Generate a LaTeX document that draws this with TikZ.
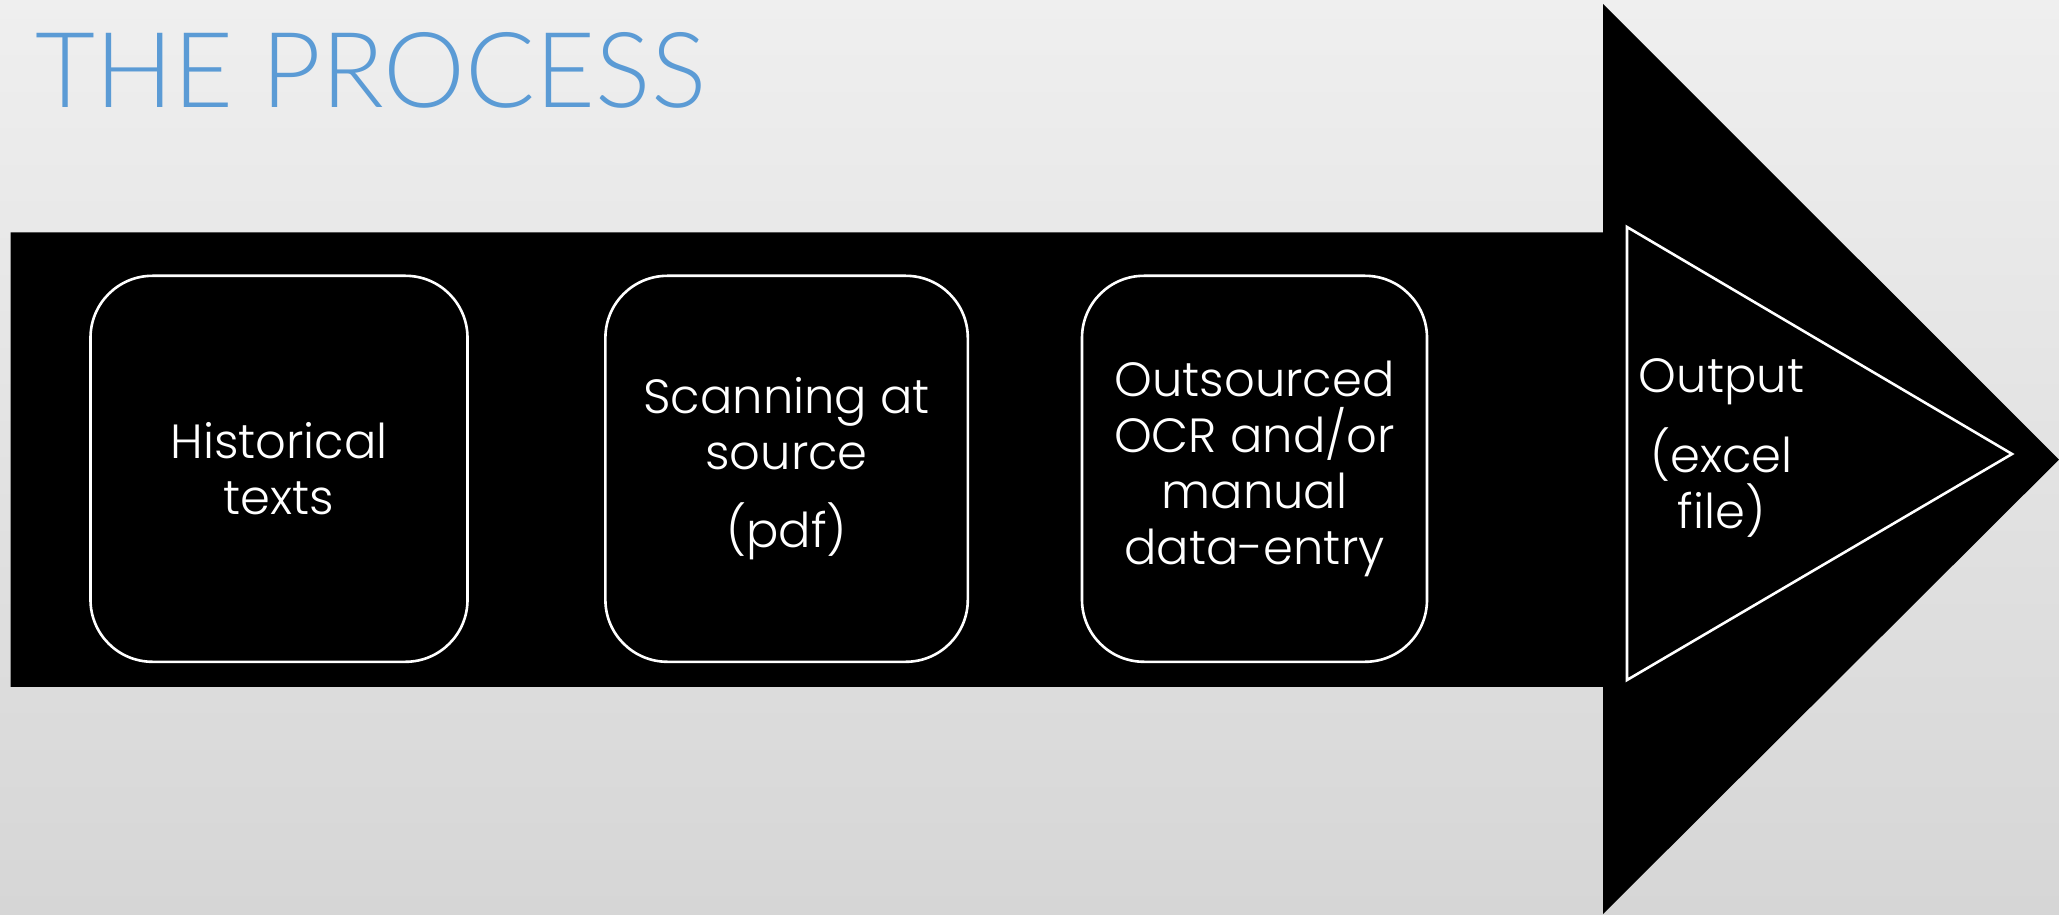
\documentclass[tikz,border=0pt]{standalone}
\usepackage{fontspec}
\usepackage{graphicx}
\newfontfamily\boxfont{Poppins Light}
\newfontfamily\titlefont{Lato Light}
\definecolor{titleblue}{HTML}{5B9BD5}
\definecolor{bgtop}{HTML}{EFEFEF}
\definecolor{bgbottom}{HTML}{D6D6D6}
\tikzset{
  stepbox/.style={draw=white, line width=2.6pt, rounded corners=62pt, fill=black,
    text=white, align=center, minimum height=386pt, inner sep=0pt,
    font=\boxfont\fontsize{48}{56}\selectfont},
  outlabel/.style={text=white, align=center, inner sep=0pt,
    font=\boxfont\fontsize{48}{56}\selectfont}
}
\begin{document}
\begin{tikzpicture}[x=1pt,y=1pt]
  \useasboundingbox (0,0) rectangle (2059,914);
  \shade[top color=bgtop, bottom color=bgbottom] (0,0) rectangle (2059,914);
  % title
  \node[anchor=south west, inner sep=0pt, text=titleblue] (title) at (35,805)
    {\resizebox{671pt}{75pt}{\titlefont THE PROCESS}};
  % big black arrow
  \fill[black] (10.5,227.2) -- (10.5,681.6) -- (1603,681.6) -- (1603,910)
    -- (2059,454.4) -- (1603,0) -- (1603,227.2) -- cycle;
  % inner triangle
  \draw[white, line width=2.6pt, line join=miter] (1627,687) -- (2012,460) -- (1627,234) -- cycle;
  % boxes
  \node[stepbox, minimum width=377pt] (b1) at (279,445.2) {Historical\\texts};
  \node[stepbox, minimum width=362.4pt] (b2) at (786.6,445.2) {Scanning at\\source\\[22pt](pdf)};
  \node[stepbox, minimum width=345pt] (b3) at (1254.5,445.2) {Outsourced\\OCR and/or\\manual\\data-entry};
  \node[outlabel] (out) at (1721.5,466) {Output\\[22pt](excel\\file)};
\end{tikzpicture}
\end{document}
